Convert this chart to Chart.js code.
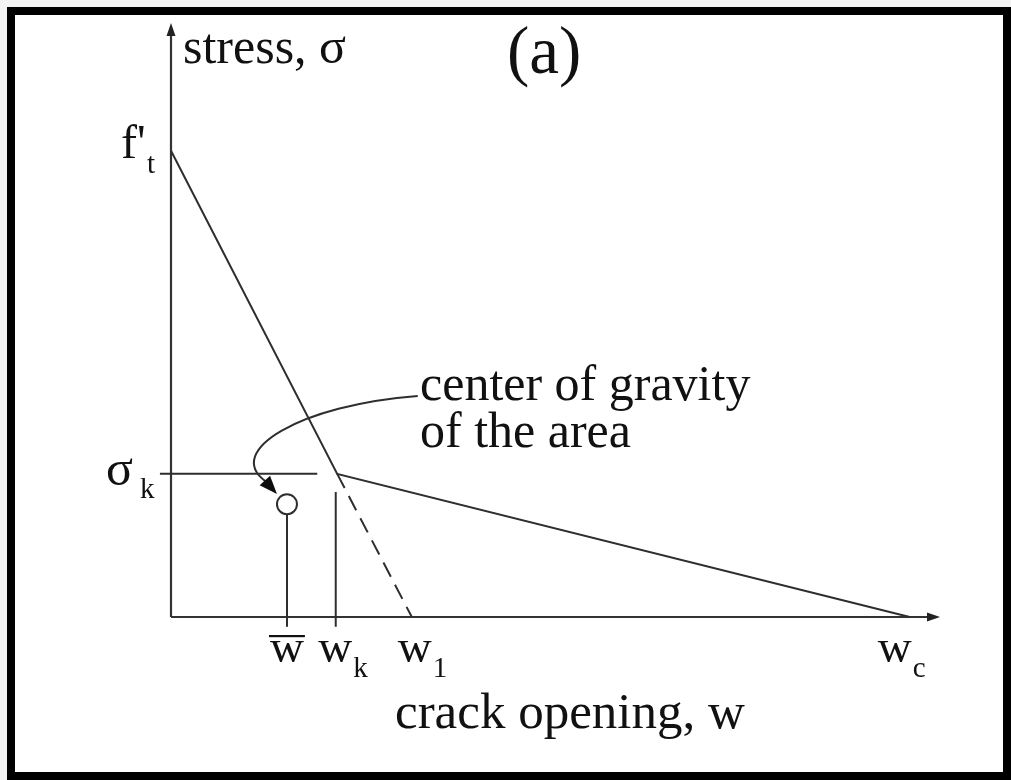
<!DOCTYPE html>
<html>
<head>
<meta charset="utf-8">
<title>Bilinear softening curve</title>
<script src="https://cdn.jsdelivr.net/npm/chart.js@4.4.1/dist/chart.umd.min.js"></script>
<style>
  html, body { margin: 0; padding: 0; background: #f3f3f3; }
  #wrap { position: relative; width: 1011px; height: 780px; overflow: hidden; }
  #frame { position: absolute; left: 7px; top: 7px; width: 988px; height: 757px; border: 8px solid #000; background: #fff; }
  #chart { position: absolute; left: 0; top: 0; }
</style>
</head>
<body>
<div id="wrap">
  <div id="frame"></div>
  <canvas id="chart" width="1011" height="780"></canvas>
</div>
<script>
// crack opening w (normalised by w_c) and stress (normalised by f't)
const curveW = [0, 0.225, 1.0];          // 0, w_k, w_c
const curveS = [1.0, 0.307, 0];          // f't, sigma_k, 0
const dashW = [0.225, 0.326];            // w_k -> w_1 (continuation of first branch)
const dashS = [0.307, 0];
const gravityW = 0.157;                  // w bar
const gravityS = 0.242;
const tickW = [0.157, 0.225, 0.326, 1.0];
const tickMain = ['w', 'w', 'w', 'w'];
const tickSub = ['', 'k', '1', 'c'];
const axisMaxW = 1.041;
const axisMaxS = 1.274;

const ink = '#2e2e2e';
const serif = '"Liberation Serif", "Times New Roman", serif';

const pts = (xs, ys) => xs.map((x, i) => ({ x: x, y: ys[i] }));

// arrow from the note to the centre of gravity (bezier, data units)
const notePath = [
  { x: 0.334, y: 0.474 },
  { x: 0.175, y: 0.455 },
  { x: 0.071, y: 0.356 },
  { x: 0.128, y: 0.291 }
];
const noteTip = { x: 0.1434, y: 0.264 };

const annotations = {
  id: 'annotations',
  beforeDatasetsDraw(chart) {
    const { ctx, scales: { x, y } } = chart;
    const x0 = x.getPixelForValue(0), y0 = y.getPixelForValue(0);
    const xEnd = x.getPixelForValue(axisMaxW), yEnd = y.getPixelForValue(axisMaxS);
    ctx.save();
    ctx.strokeStyle = '#333';
    ctx.fillStyle = '#222';
    ctx.lineWidth = 2.2;
    ctx.beginPath();
    ctx.moveTo(x0, y0);
    ctx.lineTo(x0, yEnd + 6);
    ctx.moveTo(x0, y0);
    ctx.lineTo(xEnd - 6, y0);
    ctx.stroke();
    // arrow heads
    ctx.beginPath();
    ctx.moveTo(x0, yEnd);
    ctx.lineTo(x0 - 4.5, yEnd + 13);
    ctx.lineTo(x0 + 4.5, yEnd + 13);
    ctx.closePath();
    ctx.fill();
    ctx.beginPath();
    ctx.moveTo(xEnd, y0);
    ctx.lineTo(xEnd - 13, y0 - 4.5);
    ctx.lineTo(xEnd - 13, y0 + 4.5);
    ctx.closePath();
    ctx.fill();
    ctx.restore();
  },
  afterDraw(chart) {
    const { ctx, scales: { x, y } } = chart;
    const px = v => x.getPixelForValue(v);
    const py = v => y.getPixelForValue(v);
    ctx.save();

    // curved pointer
    const p = notePath.map(q => ({ x: px(q.x), y: py(q.y) }));
    ctx.strokeStyle = ink;
    ctx.lineWidth = 2;
    ctx.beginPath();
    ctx.moveTo(p[0].x, p[0].y);
    ctx.bezierCurveTo(p[1].x, p[1].y, p[2].x, p[2].y, p[3].x, p[3].y);
    ctx.stroke();
    const tx = px(noteTip.x), ty = py(noteTip.y);
    const ang = Math.atan2(ty - p[3].y, tx - p[3].x);
    const len = 18, half = 7;
    const bx = tx - len * Math.cos(ang), by = ty - len * Math.sin(ang);
    ctx.fillStyle = '#0d0d0d';
    ctx.beginPath();
    ctx.moveTo(tx, ty);
    ctx.lineTo(bx + half * Math.sin(ang), by - half * Math.cos(ang));
    ctx.lineTo(bx - half * Math.sin(ang), by + half * Math.cos(ang));
    ctx.closePath();
    ctx.fill();

    ctx.fillStyle = '#111';
    ctx.textBaseline = 'alphabetic';
    ctx.textAlign = 'left';

    // titles
    ctx.font = '50px ' + serif;
    ctx.fillText('stress, \u03C3', 183, 63);
    ctx.font = '67px ' + serif;
    ctx.fillText('(a)', 507, 73);
    ctx.font = '51px ' + serif;
    ctx.fillText('crack opening, w', 395, 728);
    ctx.font = '50px ' + serif;
    ctx.fillText('center of gravity', 420, 400);
    ctx.fillText('of the area', 420, 447);

    // stress labels
    const yFt = py(curveS[0]), ySk = py(curveS[1]);
    ctx.font = '48px ' + serif;
    ctx.fillText("f'", 121, yFt + 7);
    ctx.font = '50px ' + serif;
    ctx.fillText('\u03C3', 106, ySk + 11);
    ctx.font = '29px ' + serif;
    ctx.fillText('t', 147, yFt + 22);
    ctx.fillText('k', 140, ySk + 24);

    // crack opening labels
    const offsets = [-17, -19, -14, -32];
    const base = py(0) + 45;
    tickW.forEach((v, i) => {
      const left = px(v) + offsets[i];
      ctx.font = '47px ' + serif;
      ctx.fillText(tickMain[i], left, base);
      const wWidth = ctx.measureText(tickMain[i]).width;
      if (tickSub[i]) {
        ctx.font = '29px ' + serif;
        ctx.fillText(tickSub[i], left + wWidth + 1, base + 15);
      } else {
        // overbar for the mean opening
        ctx.fillRect(left - 1, base - 27, wWidth + 2, 2.2);
      }
    });

    ctx.restore();
  }
};

const lineStyle = {
  borderColor: ink,
  borderWidth: 2,
  pointRadius: 0,
  showLine: true,
  fill: false,
  tension: 0,
  clip: false
};

new Chart(document.getElementById('chart'), {
  type: 'scatter',
  data: {
    datasets: [
      { ...lineStyle, label: 'bilinear softening', data: pts(curveW, curveS) },
      { ...lineStyle, label: 'linear extension', data: pts(dashW, dashS), borderDash: [16, 9] },
      { ...lineStyle, label: 'sigma_k', data: [{ x: -0.015, y: curveS[1] }, { x: 0.198, y: curveS[1] }] },
      { ...lineStyle, label: 'w_k', data: [{ x: curveW[1] - 0.002, y: -0.021 }, { x: curveW[1] - 0.002, y: 0.268 }] },
      { ...lineStyle, label: 'w bar', data: [{ x: gravityW, y: -0.021 }, { x: gravityW, y: gravityS - 0.021 }] },
      {
        label: 'centre of gravity',
        data: [{ x: gravityW, y: gravityS }],
        pointRadius: 10,
        pointBackgroundColor: '#fff',
        pointBorderColor: ink,
        pointBorderWidth: 2,
        showLine: false,
        clip: false
      }
    ]
  },
  options: {
    responsive: false,
    animation: false,
    events: [],
    layout: { padding: { left: 171, right: 71, top: 23, bottom: 163 } },
    plugins: {
      legend: { display: false },
      tooltip: { enabled: false }
    },
    scales: {
      x: { type: 'linear', min: 0, max: axisMaxW, display: false },
      y: { type: 'linear', min: 0, max: axisMaxS, display: false }
    }
  },
  plugins: [annotations]
});
</script>
</body>
</html>
